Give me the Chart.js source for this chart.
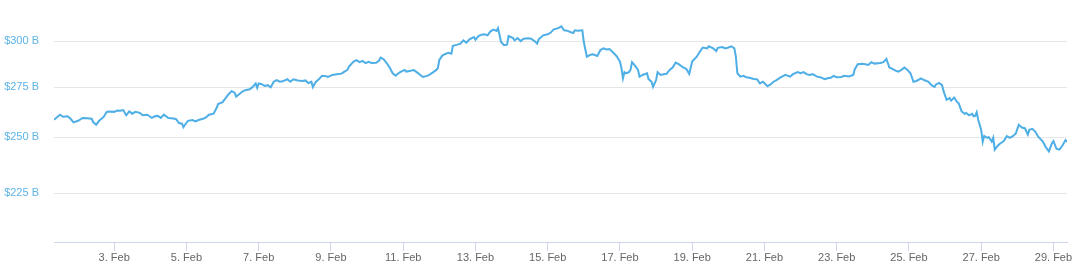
<!DOCTYPE html>
<html>
<head>
<meta charset="utf-8">
<script src="https://cdn.jsdelivr.net/npm/chart.js@4"></script>
<style>
  html, body { margin: 0; padding: 0; background: #fff; }
  #wrap { width: 1080px; height: 272px; }
</style>
</head>
<body>
<div id="wrap"><canvas id="cap" width="1080" height="272"></canvas></div>
<script>
// horas desde 1. Feb 00:00
var hours = [
  8, 12, 14, 17, 19, 21, 24, 27, 30, 33,
  34, 36, 38, 41, 43, 45, 48, 50, 52, 54,
  56, 58, 60, 62, 65, 67, 70, 73, 75, 77,
  79, 81, 84, 86, 89, 91, 93, 94, 95, 97,
  100, 102, 104, 107, 109, 111, 114, 116, 117, 120,
  122, 124, 126, 128, 129, 131, 133, 135, 138, 140,
  142, 143, 144, 146, 148, 150, 152, 154, 156, 158,
  160, 163, 165, 167, 170, 173, 175, 177, 179, 180,
  182, 184, 186, 188, 190, 193, 196, 199, 201, 203,
  204, 207, 209, 211, 213, 215, 217, 219, 222, 224,
  225, 227, 229, 231, 233, 235, 236, 238, 241, 242,
  245, 247, 249, 252, 253, 256, 258, 260, 262, 263,
  264, 266, 268, 270, 272, 273, 276, 278, 280, 282,
  284, 287, 288, 290, 292, 294, 296, 298, 300, 302,
  303, 305, 307, 309, 310, 313, 314, 316, 318, 320,
  323, 325, 328, 329, 330, 333, 336, 338, 340, 342,
  344, 345, 347, 349, 351, 353, 354, 356, 359, 360,
  362, 364, 366, 369, 371, 373, 375, 377, 380, 382,
  384, 385, 386, 387, 388, 390, 391, 392, 394, 396,
  397, 399, 402, 403, 405, 406, 408, 409, 411, 413,
  415, 417, 419, 421, 423, 426, 428, 430, 432, 435,
  437, 439, 442, 443, 446, 448, 449, 452, 454, 456,
  458, 460, 461, 462, 464, 466, 468, 470, 473, 475,
  477, 479, 482, 484, 486, 488, 491, 494, 497, 499,
  502, 504, 506, 508, 510, 512, 515, 517, 520, 522,
  524, 526, 528, 531, 533, 536, 539, 540, 542, 545,
  547, 549, 551, 553, 557, 559, 561, 563, 565, 567,
  569, 571, 573, 575, 577, 579, 581, 584, 586, 589,
  591, 593, 594, 596, 598, 599, 601, 603, 604, 606,
  608, 609, 611, 613, 614, 616, 618, 619, 620, 621,
  622, 623, 624, 625, 626, 628, 629, 631, 632, 633,
  635, 636, 639, 641, 643, 645, 647, 649, 651, 653,
  655, 656, 658, 660, 662, 665, 667, 669, 671, 672,
  674, 676, 678, 680, 681
];

// capitalização em bilhões de dólares
var capB = [
  258.5, 261.0, 260.0, 260.2, 259.0, 257.2, 258.0, 259.4, 259.2, 259.0,
  257.4, 256.1, 258.0, 259.9, 262.4, 262.6, 262.4, 263.1, 263.0, 263.3,
  260.7, 262.6, 261.5, 262.4, 261.9, 260.7, 261.0, 259.4, 260.2, 260.4,
  259.4, 261.0, 259.4, 259.2, 258.9, 256.9, 256.6, 254.9, 256.1, 258.0,
  258.4, 257.7, 258.4, 259.0, 259.7, 261.0, 261.5, 264.3, 266.3, 267.3,
  269.3, 271.3, 272.9, 272.1, 270.1, 271.3, 272.6, 273.4, 273.9, 275.1,
  276.9, 274.6, 276.9, 276.5, 275.6, 276.0, 274.9, 277.8, 278.7, 277.8,
  278.0, 279.1, 277.8, 279.1, 278.5, 278.2, 278.5, 277.1, 277.8, 275.0,
  277.8, 279.1, 280.9, 280.9, 280.3, 281.4, 281.8, 282.1, 283.2, 284.1,
  285.9, 288.6, 289.4, 288.3, 289.0, 287.8, 288.5, 287.8, 287.9, 289.2,
  290.8, 289.9, 287.8, 285.4, 282.3, 281.0, 281.8, 282.9, 284.1, 283.2,
  283.6, 284.0, 282.9, 281.0, 280.3, 280.9, 281.8, 282.9, 284.1, 285.0,
  289.5, 291.9, 292.8, 293.5, 293.0, 297.3, 298.0, 298.6, 300.4, 299.1,
  301.0, 302.3, 300.8, 302.9, 303.7, 303.9, 303.3, 305.6, 306.6, 305.8,
  307.5, 299.5, 297.7, 298.0, 302.9, 301.7, 300.4, 301.7, 300.0, 301.4,
  301.7, 301.4, 299.5, 298.6, 301.0, 303.3, 303.9, 304.9, 306.8, 307.2,
  307.9, 308.5, 306.2, 306.0, 305.2, 304.6, 306.2, 306.0, 306.2, 299.5,
  291.3, 292.2, 292.6, 291.7, 295.0, 295.9, 295.3, 295.5, 293.2, 291.3,
  288.6, 285.0, 279.6, 282.9, 282.3, 282.9, 284.1, 288.3, 286.4, 284.1,
  280.5, 281.4, 282.3, 279.2, 277.8, 275.1, 278.7, 282.9, 281.4, 281.8,
  282.0, 284.1, 285.4, 288.1, 287.2, 285.4, 284.7, 282.0, 288.6, 291.3,
  294.0, 296.4, 295.9, 297.1, 295.9, 294.4, 296.2, 296.7, 295.9, 296.4,
  297.1, 295.9, 291.3, 282.3, 280.5, 280.9, 280.2, 279.9, 279.2, 279.1,
  276.9, 277.8, 275.4, 276.4, 277.8, 278.7, 280.2, 281.4, 280.5, 281.8,
  282.9, 282.3, 282.9, 281.8, 281.4, 281.8, 280.5, 280.2, 279.1, 279.6,
  279.9, 280.9, 280.2, 280.3, 280.9, 280.6, 281.4, 284.5, 287.2, 287.4,
  287.2, 286.8, 288.3, 287.5, 287.8, 288.3, 290.1, 285.4, 284.7, 283.7,
  283.2, 284.1, 285.4, 284.1, 282.3, 277.8, 278.2, 279.6, 278.7, 277.8,
  276.0, 275.1, 276.4, 277.2, 276.0, 272.9, 268.5, 269.3, 268.0, 269.6,
  267.3, 266.8, 262.6, 261.4, 261.9, 260.7, 261.4, 260.2, 260.4, 262.2,
  258.5, 256.1, 253.6, 248.0, 250.7, 249.8, 250.2, 248.0, 249.8, 244.3,
  246.1, 246.8, 248.3, 250.6, 249.8, 250.6, 251.9, 256.1, 254.7, 254.4,
  251.4, 253.6, 254.1, 252.7, 250.2, 248.0, 245.3, 243.5, 247.3, 248.3,
  244.7, 244.3, 246.2, 248.7, 248.0
];

var tickDays = [3, 5, 7, 9, 11, 13, 15, 17, 19, 21, 23, 25, 27, 29];
var yTicks = [225, 250, 275, 300];

var pontos = hours.map(function(h, i) { return { x: h, y: capB[i] }; });

var ctx = document.getElementById('cap').getContext('2d');
var grafico = new Chart(ctx, {
    type: 'line',
    data: {
        datasets: [{
            data: pontos,
            borderColor: '#4eaee6',
            borderWidth: 2,
            pointRadius: 0,
            fill: false,
            tension: 0
        }]
    },
    options: {
        responsive: false,
        animation: false,
        layout: { padding: { top: 0, right: 13, left: 0, bottom: 0 } },
        plugins: {
            legend: { display: false },
            tooltip: { enabled: false }
        },
        scales: {
            x: {
                type: 'linear',
                min: 8,
                max: 681,
                afterBuildTicks: function(scale) {
                    scale.ticks = tickDays.map(function(d) { return { value: (d - 1) * 24 }; });
                },
                afterFit: function(scale) { scale.height = 30; },
                grid: { drawOnChartArea: false, drawTicks: true, tickLength: 9, color: '#ccd6eb' },
                border: { color: '#ccd6eb' },
                ticks: {
                    padding: 0,
                    maxRotation: 0,
                    autoSkip: false,
                    color: '#666666',
                    font: { family: 'Liberation Sans', size: 11 },
                    callback: function(v) { return (v / 24 + 1) + '. Feb'; }
                }
            },
            y: {
                type: 'logarithmic',
                min: 205.1,
                max: 311.3,
                afterBuildTicks: function(scale) {
                    scale.ticks = yTicks.map(function(v) { return { value: v }; });
                },
                afterFit: function(scale) { scale.width = 54; },
                grid: { color: '#e6e6e6', drawTicks: false },
                border: { display: false },
                ticks: {
                    padding: 15,
                    color: '#5db3e6',
                    font: { family: 'Liberation Sans', size: 11 },
                    callback: function(v) { return '$' + v + ' B'; }
                }
            }
        }
    }
});
</script>
</body>
</html>
